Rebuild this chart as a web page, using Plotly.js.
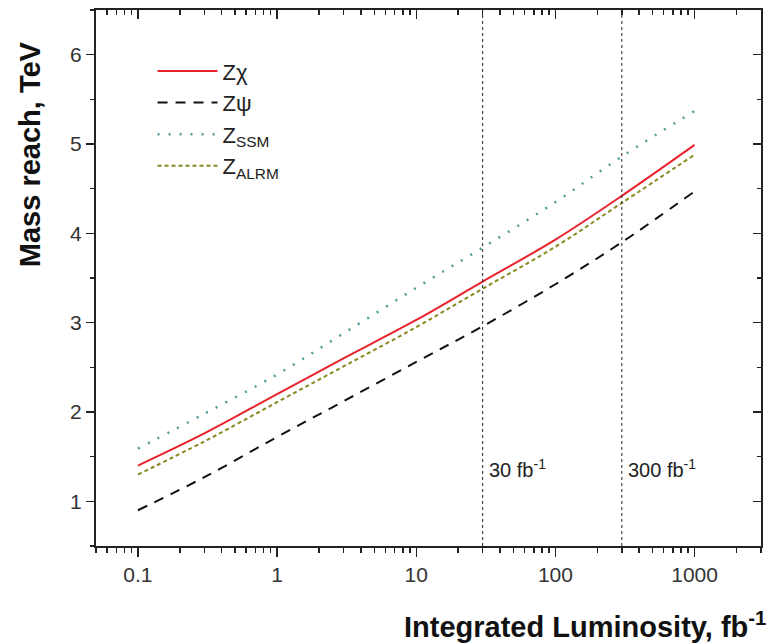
<!DOCTYPE html>
<html>
<head>
<meta charset="utf-8">
<script src="https://cdn.plot.ly/plotly-3.0.1.min.js"></script>
<style>html,body{margin:0;padding:0;background:#fff;}#chart{width:768px;height:644px;}</style>
</head>
<body>
<div id="chart"></div>
<script>
const luminosity = [0.1, 0.3, 1, 3, 10, 30, 100, 300, 1000];
const zChi  = [1.40, 1.76, 2.20, 2.60, 3.03, 3.46, 3.93, 4.42, 4.99];
const zPsi  = [0.90, 1.27, 1.72, 2.12, 2.56, 2.96, 3.43, 3.90, 4.47];
const zSSM  = [1.59, 1.98, 2.42, 2.88, 3.39, 3.84, 4.35, 4.86, 5.37];
const zALRM = [1.30, 1.67, 2.11, 2.51, 2.95, 3.38, 3.85, 4.34, 4.88];
const seriesNames = ['Zχ', 'Zψ', 'Z<sub>SSM</sub>', 'Z<sub>ALRM</sub>'];
const markerLumi = [30, 300];
const markerLabels = ['30 fb<sup>-1</sup>', '300 fb<sup>-1</sup>'];
const markerLabelY = 1.37;
const xTickVals = [0.1, 1, 10, 100, 1000];
const xTickText = ['0.1', '1', '10', '100', '1000'];
const yTickVals = [1, 2, 3, 4, 5, 6];

const font = 'Arial, "Liberation Sans", sans-serif';
const traces = [
  {x: luminosity, y: zChi,  name: seriesNames[0], line: {color: '#e8232b', width: 2, dash: 'solid'}},
  {x: luminosity, y: zPsi,  name: seriesNames[1], line: {color: '#111111', width: 2, dash: '10px,8px'}},
  {x: luminosity, y: zSSM,  name: seriesNames[2], line: {color: '#4c9c9c', width: 2.5, dash: '2px,9px'}},
  {x: luminosity, y: zALRM, name: seriesNames[3], line: {color: '#8a8a22', width: 2, dash: '4px,3px'}}
].map(t => { t.type = 'scatter'; t.mode = 'lines'; t.hoverinfo = 'skip'; t.line.shape = 'spline'; return t; });

const shapes = markerLumi.map(v => ({
  type: 'line', xref: 'x', yref: 'paper', x0: v, x1: v, y0: 0, y1: 1,
  line: {color: '#222', width: 1, dash: 'dot'}
}));
const annotations = markerLumi.map((v, i) => ({
  x: Math.log10(v), y: markerLabelY, xref: 'x', yref: 'y', text: markerLabels[i],
  showarrow: false, xanchor: 'left', xshift: 4, font: {family: font, size: 20, color: '#222'}
}));
annotations.push({
  xref: 'paper', yref: 'paper', x: 1.01, y: -0.148, xanchor: 'right', yanchor: 'middle',
  text: '<b>Integrated Luminosity, fb<sup>-1</sup></b>', showarrow: false,
  font: {family: font, size: 29, color: '#111'}
});
annotations.push({
  xref: 'paper', yref: 'paper', x: -0.1, y: 0.73, textangle: -90, xanchor: 'center', yanchor: 'middle',
  text: '<b>Mass reach, TeV</b>', showarrow: false,
  font: {family: font, size: 29, color: '#111'}
});

const minorX = [0.05,0.06,0.07,0.08,0.09,0.2,0.3,0.4,0.5,0.6,0.7,0.8,0.9,2,3,4,5,6,7,8,9,20,30,40,50,60,70,80,90,200,300,400,500,600,700,800,900,2000,3000];
const xr = [Math.log10(0.05), Math.log10(3000)];
const layout = {
  width: 768, height: 644,
  margin: {l: 96, r: 7, t: 10, b: 98},
  paper_bgcolor: '#fff', plot_bgcolor: '#fff',
  font: {family: font, size: 21, color: '#333'},
  showlegend: true,
  legend: {x: 0.085, y: 0.925, xanchor: 'left', yanchor: 'top', bgcolor: 'rgba(0,0,0,0)',
           font: {family: font, size: 22, color: '#222'}, tracegroupgap: 0, itemwidth: 60},
  xaxis: {type: 'log', range: xr, showgrid: false, zeroline: false, showline: true,
          linecolor: '#222', linewidth: 2, ticks: 'outside', ticklen: 9, tickwidth: 1.5, tickcolor: '#222',
          tickvals: xTickVals, ticktext: xTickText,
          minor: {ticks: 'outside', ticklen: 5, tickcolor: '#222', tickwidth: 1.5, showgrid: false, tickvals: minorX},
          tickfont: {family: font, size: 21, color: '#333'}},
  xaxis2: {type: 'log', range: xr, overlaying: 'x', side: 'top', showgrid: false, zeroline: false,
           showline: true, linecolor: '#222', linewidth: 2, ticks: 'inside', ticklen: 9, tickwidth: 1.5, tickcolor: '#222',
           tickvals: xTickVals, showticklabels: false,
           minor: {ticks: 'inside', ticklen: 5, tickcolor: '#222', tickwidth: 1.5, tickvals: minorX}},
  yaxis: {range: [0.5, 6.5], showgrid: false, zeroline: false, showline: true,
          linecolor: '#222', linewidth: 2, ticks: 'outside', ticklen: 8, tickwidth: 1.5, tickcolor: '#222',
          tickvals: yTickVals,
          minor: {ticks: 'outside', ticklen: 4, tickcolor: '#222', tickwidth: 1.5, tickvals: [0.5,1.5,2.5,3.5,4.5,5.5,6.5]},
          tickfont: {family: font, size: 21, color: '#333'}},
  yaxis2: {range: [0.5, 6.5], overlaying: 'y', side: 'right', showgrid: false, zeroline: false,
           showline: true, linecolor: '#222', linewidth: 2, ticks: 'inside', ticklen: 8, tickwidth: 1.5, tickcolor: '#222',
           tickvals: yTickVals, showticklabels: false,
           minor: {ticks: 'inside', ticklen: 4, tickcolor: '#222', tickwidth: 1.5, tickvals: [1.5,2.5,3.5,4.5,5.5]}},
  shapes: shapes,
  annotations: annotations
};
const dummy = {type: 'scatter', x: [luminosity[0]], y: [zChi[0]], xaxis: 'x2', yaxis: 'y2', mode: 'markers',
               marker: {opacity: 0}, showlegend: false, hoverinfo: 'skip'};
Plotly.newPlot('chart', traces.concat([dummy]), layout, {staticPlot: true});
</script>
</body>
</html>
